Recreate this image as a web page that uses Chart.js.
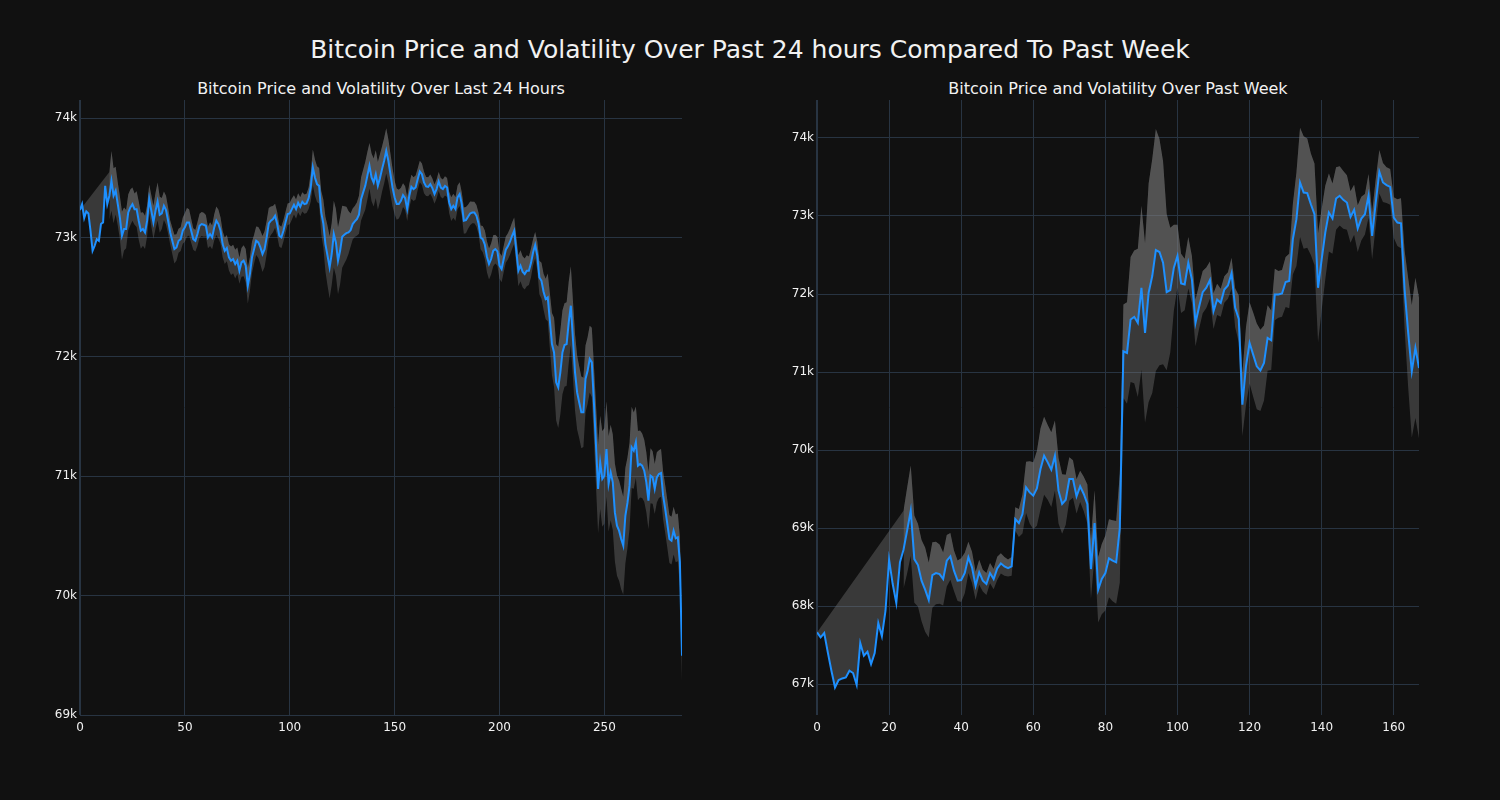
<!DOCTYPE html>
<html>
<head>
<meta charset="utf-8">
<script src="https://cdn.jsdelivr.net/npm/chart.js@4.4.1/dist/chart.umd.min.js"></script>
<style>
  body { margin: 0; background: #111111; }
  #wrap { position: relative; width: 1500px; height: 800px; background: #111111; overflow: hidden; }
  .title { position: absolute; color: #f2f2f2; font-family: 'DejaVu Sans', sans-serif; text-align: center; white-space: nowrap; }
  canvas { position: absolute; top: 0; }
</style>
</head>
<body>
<div id="wrap">
  <div class="title" style="left:0;width:1500px;top:37px;font-size:25px;line-height:25px;">Bitcoin Price and Volatility Over Past 24 hours Compared To Past Week</div>
  <div class="title" style="left:81px;width:600px;top:81px;font-size:16px;line-height:16px;">Bitcoin Price and Volatility Over Last 24 Hours</div>
  <div class="title" style="left:818px;width:600px;top:81px;font-size:16px;line-height:16px;">Bitcoin Price and Volatility Over Past Week</div>
  <canvas id="dayChart" width="760" height="800" style="left:0px;"></canvas>
  <canvas id="weekChart" width="763" height="800" style="left:737px;"></canvas>
</div>
<script>
// last 24 hours, 5 minute steps
const dayPrice = [
  73229, 73279, 73162, 73218, 73201, 73056, 72888, 72930, 72986, 72972,
  73112, 73126, 73432, 73279, 73349, 73474, 73349, 73391, 73279, 73167,
  73014, 73070, 73070, 73209, 73251, 73279, 73237, 73237, 73140, 73056,
  73070, 73042, 73140, 73321, 73223, 73126, 73223, 73301, 73190, 73201,
  73265, 73229, 73140, 73042, 72972, 72902, 72916, 72972, 72986, 73056,
  73084, 73126, 73126, 73056, 72986, 72972, 73028, 73098, 73112, 73106,
  73098, 73000, 73028, 73000, 73084, 73140, 73112, 73056, 72944, 72888,
  72911, 72833, 72805, 72819, 72777, 72805, 72721, 72791, 72805, 72763,
  72595, 72693, 72833, 72902, 72972, 72958, 72916, 72861, 72902, 73000,
  73117, 73140, 73153, 73181, 73112, 73014, 73000, 73056, 73126, 73195,
  73201, 73237, 73273, 73237, 73290, 73257, 73298, 73279, 73285, 73329,
  73418, 73586, 73502, 73446, 73432, 73209, 73117, 72944, 72847, 72749,
  72861, 73028, 72958, 72805, 72888, 73006, 73022, 73036, 73042, 73061,
  73112, 73134, 73153, 73190, 73321, 73377, 73432, 73516, 73600, 73502,
  73460, 73530, 73432, 73496, 73572, 73642, 73725, 73642, 73530, 73418,
  73335, 73279, 73279, 73307, 73354, 73329, 73237, 73349, 73424, 73405,
  73418, 73488, 73552, 73530, 73460, 73427, 73424, 73446, 73413, 73363,
  73405, 73469, 73418, 73405, 73432, 73418, 73293, 73237, 73265, 73237,
  73335, 73363, 73279, 73140, 73145, 73173, 73201, 73209, 73209, 73181,
  73117, 73000, 72986, 72939, 72838, 72777, 72819, 72888, 72902, 72883,
  72763, 72735, 72819, 72897, 72925, 72964, 73014, 73056, 72888, 72721,
  72763, 72713, 72693, 72721, 72721, 72785, 72874, 72936, 72847, 72665,
  72637, 72545, 72484, 72498, 72302, 72107, 72037, 71786, 71744, 71870,
  72037, 72099, 72107, 72288, 72428, 72149, 71870, 71702, 71618, 71535,
  71535, 71814, 71884, 71981, 71953, 71618, 71256, 70893, 71116, 70977,
  71004, 71228, 70935, 71032, 70949, 70697, 70586, 70544, 70474, 70418,
  70669, 70776, 70921, 71242, 71214, 71284, 71088, 71102, 71088, 71046,
  70949, 70795, 71004, 70990, 70893, 70990, 71018, 71027, 70837, 70725,
  70600, 70474, 70460, 70544, 70480, 70488, 70279, 69497
];
const dayVol = [
  null, null, null, null, null, null, null, null, null, null,
  null, null, null, null, 200, 250, 230, 200, 180, 180,
  200, 180, 160, 150, 150, 140, 130, 150, 160, 150,
  140, 140, 130, 120, 130, 140, 150, 160, 150, 130,
  120, 120, 110, 100, 110, 120, 110, 100, 100, 110,
  120, 120, 110, 100, 90, 90, 100, 100, 100, 100,
  90, 90, 100, 100, 110, 120, 120, 110, 110, 110,
  110, 110, 120, 120, 120, 110, 110, 120, 130, 140,
  150, 140, 130, 120, 120, 130, 140, 150, 150, 140,
  130, 120, 110, 100, 100, 90, 90, 90, 90, 90,
  90, 90, 80, 80, 80, 80, 80, 80, 80, 90,
  120, 150, 150, 150, 150, 180, 200, 230, 250, 260,
  260, 280, 280, 280, 280, 260, 240, 220, 180, 140,
  130, 130, 140, 160, 180, 190, 200, 200, 190, 200,
  200, 200, 200, 200, 190, 190, 190, 180, 170, 160,
  140, 130, 120, 110, 100, 100, 100, 100, 100, 100,
  100, 90, 90, 90, 90, 80, 80, 80, 80, 80,
  80, 80, 80, 80, 80, 80, 90, 100, 100, 100,
  100, 100, 100, 110, 110, 100, 100, 90, 90, 90,
  90, 100, 110, 120, 130, 130, 130, 130, 120, 120,
  110, 110, 110, 110, 110, 110, 110, 110, 120, 130,
  130, 130, 130, 130, 120, 120, 110, 110, 120, 140,
  150, 150, 170, 200, 230, 260, 290, 320, 340, 350,
  350, 350, 350, 340, 330, 320, 320, 310, 300, 300,
  290, 280, 280, 280, 290, 310, 340, 370, 390, 400,
  400, 400, 400, 400, 400, 410, 420, 420, 420, 410,
  400, 380, 360, 340, 320, 300, 290, 280, 270, 260,
  250, 240, 230, 220, 210, 210, 200, 200, 200, 200,
  200, 200, 200, 200, 200, 200, 210, 220
];
const dayXTicks = [0, 50, 100, 150, 200, 250];
const dayYTicks = [69000, 70000, 71000, 72000, 73000, 74000];

// past week, hourly
const weekPrice = [
  67662, 67598, 67654, 67406, 67171, 66957, 67051, 67072, 67085, 67171,
  67141, 66991, 67525, 67363, 67414, 67256, 67397, 67782, 67611, 67940,
  68594, 68282, 68038, 68560, 68722, 68966, 69222, 68602, 68525, 68325,
  68209, 68077, 68397, 68423, 68410, 68346, 68581, 68637, 68453, 68325,
  68333, 68423, 68624, 68496, 68260, 68432, 68325, 68282, 68423, 68346,
  68483, 68547, 68508, 68487, 68508, 69115, 69064, 69179, 69521, 69457,
  69414, 69508, 69756, 69927, 69842, 69748, 69927, 69479, 69308, 69363,
  69628, 69628, 69406, 69534, 69436, 69308, 68474, 69064, 68209, 68346,
  68423, 68611, 68581, 68560, 69000, 71266, 71244, 71673, 71707, 71630,
  72080, 71501, 72016, 72230, 72564, 72538, 72401, 72024, 72050, 72337,
  72487, 72136, 72123, 72401, 72187, 71630, 71836, 72024, 72080, 72178,
  71780, 71930, 71887, 72058, 72110, 72264, 71823, 71681, 70580, 71073,
  71373, 71223, 71073, 71021, 71116, 71437, 71407, 71994, 71994, 72007,
  72153, 72166, 72701, 72959, 73430, 73301, 73293, 73151, 73023, 72080,
  72444, 72787, 73044, 72967, 73224, 73259, 73207, 73173, 72988, 73079,
  72839, 72967, 73023, 73259, 72744, 73173, 73567, 73430, 73396, 73374,
  72980, 72916, 72907, 72058, 71501, 71009, 71309, 71051
];
const weekVol = [
  null, null, null, null, null, null, null, null, null, null,
  null, null, null, null, null, null, null, null, null, null,
  null, null, null, null, 500, 550, 580, 560, 530, 520,
  540, 480, 420, 400, 380, 340, 330, 300, 260, 260,
  280, 260, 200, 200, 180, 160, 140, 140, 130, 130,
  150, 130, 120, 110, 120, 150, 180, 250, 330, 400,
  430, 480, 520, 500, 480, 480, 450, 420, 380, 320,
  280, 240, 220, 200, 220, 250, 380, 420, 420, 450,
  480, 500, 520, 530, 700, 600, 650, 800, 850, 950,
  1050, 1150, 1400, 1500, 1550, 1450, 1300, 1000, 800, 550,
  400, 380, 330, 330, 300, 300, 280, 270, 260, 240,
  230, 200, 180, 170, 170, 200, 250, 300, 400, 500,
  520, 540, 550, 520, 480, 420, 380, 330, 300, 300,
  320, 350, 450, 600, 700, 720, 700, 650, 650, 700,
  650, 600, 500, 450, 400, 380, 370, 350, 330, 320,
  300, 280, 260, 280, 300, 300, 280, 250, 230, 230,
  260, 300, 320, 500, 700, 850, 900, 900
];
const weekXTicks = [0, 20, 40, 60, 80, 100, 120, 140, 160];
const weekYTicks = [67000, 68000, 69000, 70000, 71000, 72000, 73000, 74000];

const gridColor = '#283442';
const textColor = '#f2f2f2';
const lineBlue = '#1e90ff';
const bandGrey = 'rgba(128,128,128,0.37)';

function makeChart(id, price, vol, xTicks, yTicks, yMin, yMax, xMax, padRight) {
  const pricePts = price.map((v, i) => ({ x: i, y: v }));
  const upperPts = price.map((v, i) => ({ x: i, y: vol[i] == null ? (i === 0 ? v : null) : v + vol[i] }));
  const lowerPts = price.map((v, i) => ({ x: i, y: vol[i] == null ? null : v - vol[i] }));

  const ctx = document.getElementById(id).getContext('2d');
  return new Chart(ctx, {
    type: 'line',
    data: {
      datasets: [
        { label: 'price', data: pricePts, borderColor: lineBlue, borderWidth: 2, pointRadius: 0, fill: false, tension: 0 },
        { label: 'upper', data: upperPts, borderColor: 'transparent', borderWidth: 0, pointRadius: 0, spanGaps: true, fill: 0, backgroundColor: bandGrey },
        { label: 'lower', data: lowerPts, borderColor: 'transparent', borderWidth: 0, pointRadius: 0, fill: 1, backgroundColor: bandGrey },
      ],
    },
    options: {
      responsive: false,
      animation: false,
      devicePixelRatio: 1,
      layout: { padding: { top: 100, right: padRight, bottom: 0, left: 0 } },
      plugins: {
        legend: { display: false },
        tooltip: { enabled: false },
        filler: { drawTime: 'beforeDatasetsDraw' },
      },
      scales: {
        x: {
          type: 'linear',
          min: 0,
          max: xMax,
          border: { display: false },
          grid: {
            color: gridColor,
            drawTicks: false,
            lineWidth: (c) => (c.tick && c.tick.value === 0 ? 2 : 1),
          },
          ticks: {
            color: textColor,
            padding: 6,
            maxRotation: 0,
            autoSkip: false,
            font: { family: "'DejaVu Sans'", size: 12 },
          },
          afterBuildTicks: (s) => { s.ticks = xTicks.map((v) => ({ value: v })); },
          afterFit: (s) => { s.height = 85; },
        },
        y: {
          min: yMin,
          max: yMax,
          border: { display: false },
          grid: { color: gridColor, drawTicks: false },
          ticks: {
            color: textColor,
            padding: 3,
            autoSkip: false,
            font: { family: "'DejaVu Sans'", size: 12 },
            callback: (v) => (v / 1000) + 'k',
          },
          afterBuildTicks: (s) => { s.ticks = yTicks.map((v) => ({ value: v })); },
          afterFit: (s) => { s.width = 80; },
        },
      },
    },
  });
}

makeChart('dayChart', dayPrice, dayVol, dayXTicks, dayYTicks, 69000, 74151, 287, 78);
makeChart('weekChart', weekPrice, weekVol, weekXTicks, weekYTicks, 66603, 74487, 167, 81);
</script>
</body>
</html>
